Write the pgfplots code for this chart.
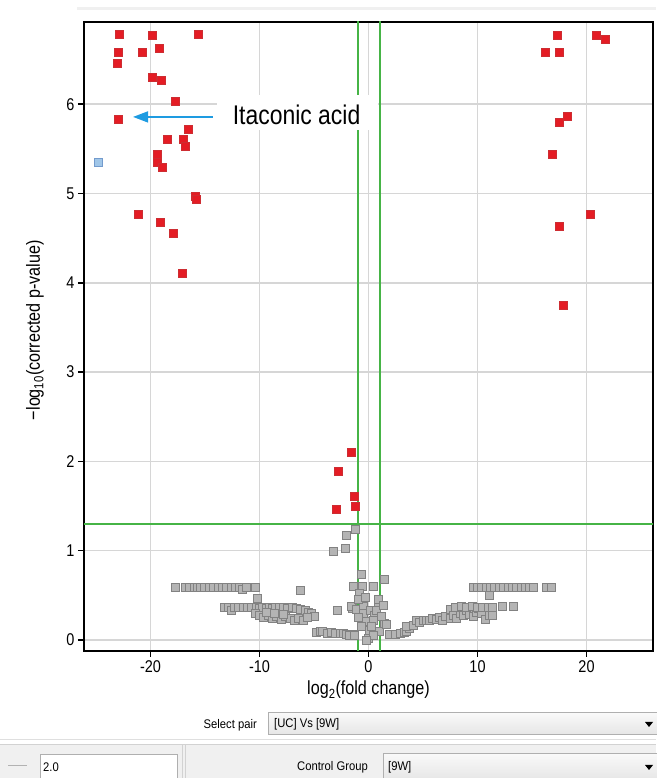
\documentclass[border=0pt]{standalone}
\usepackage{fontspec}
\setmainfont{Liberation Sans}[FakeStretch=0.85]
\newfontfamily\uifont{Liberation Sans}[FakeStretch=0.9]
\usepackage{pgfplots}
\pgfplotsset{compat=1.18}
\usetikzlibrary{arrows.meta}

\definecolor{gridc}{RGB}{214,214,214}
\definecolor{redf}{RGB}{228,28,36}
\definecolor{rede}{RGB}{205,45,50}
\definecolor{grayf}{RGB}{180,180,180}
\definecolor{graye}{RGB}{130,130,130}
\definecolor{bluef}{RGB}{160,198,232}
\definecolor{bluee}{RGB}{115,155,205}
\definecolor{greenl}{RGB}{70,180,70}
\definecolor{arrowc}{RGB}{30,155,225}
\definecolor{panel}{RGB}{240,240,240}
\definecolor{uiborder}{RGB}{175,175,175}

\begin{document}
\begin{tikzpicture}[x=1pt,y=1pt]
\useasboundingbox (0,0) rectangle (656,778);
% top strip
\fill[gray!12] (77,768) rectangle (656,771);
\begin{axis}[
  at={(84pt,127pt)}, anchor=south west,
  width=569pt, height=629pt, scale only axis,
  xmin=-26.1, xmax=26.1, ymin=-0.123, ymax=6.92,
  xtick={-20,-10,0,10,20}, xticklabels={-20,-10,0,10,20},
  ytick={0,1,2,3,4,5,6},
  tick pos=left,
  grid=major, major grid style={gridc, line width=1.5pt},
  axis line style={line width=2.8pt, black},
  tick style={black, line width=1.5pt}, tick align=outside, major tick length=6pt,
  ticklabel style={font=\fontsize{17}{20}\selectfont},
  /pgf/number format/assume math mode=true,
  xlabel={log\textsubscript{2}(fold change)},
  ylabel={−log\textsubscript{10}(corrected p-value)},
  label style={font=\fontsize{19}{22}\selectfont},
  xlabel style={at={(axis description cs:0.5,-0.062)}, anchor=center},
  ylabel style={at={(axis description cs:-0.086,0.51)}, anchor=center},
]
% non-significant (gray)
\addplot[only marks, mark=square*, mark size=4pt, mark options={fill=grayf, draw=graye, line width=1pt}] coordinates {
(-17.7,0.59) (-16.8,0.59) (-16.4,0.59) (-16.0,0.59) (-15.7,0.59) (-15.4,0.59) (-15.0,0.59) (-14.6,0.59)
(-14.2,0.59) (-13.8,0.59) (-13.4,0.59) (-13.0,0.59) (-12.6,0.59) (-12.2,0.59) (-11.8,0.59) (-11.6,0.57)
(-11.2,0.59) (-10.4,0.59) (-10.2,0.47) (-6.2,0.55)
(-13.2,0.36) (-12.8,0.36) (-12.6,0.33) (-12.3,0.36) (-11.9,0.36) (-11.5,0.36) (-11.1,0.36) (-10.7,0.36)
(-10.3,0.36) (-10.0,0.35) (-9.7,0.36) (-9.4,0.35) (-9.1,0.36) (-8.8,0.35) (-8.5,0.36) (-8.2,0.36)
(-7.8,0.36) (-7.4,0.35) (-7.0,0.36) (-6.6,0.35) (-6.2,0.34) (-5.8,0.33) (-5.5,0.31) (-5.2,0.30) (-5.0,0.26)
(-10.4,0.30) (-10.0,0.27) (-9.6,0.25) (-9.2,0.28) (-8.8,0.24) (-8.4,0.26) (-8.0,0.23) (-7.6,0.26)
(-7.2,0.24) (-6.8,0.22) (-6.4,0.24) (-6.0,0.22) (-5.6,0.25) (-9.4,0.31) (-8.6,0.30) (-7.8,0.29)
(-2.8,0.33) (-1.5,0.355)
(-4.8,0.08) (-4.4,0.10) (-4.2,0.10) (-3.8,0.07) (-3.4,0.08) (-3.0,0.07) (-2.6,0.07) (-2.3,0.075)
(-2.0,0.06) (-1.7,0.056) (-1.3,0.06)
(-3.2,0.99) (-2.15,1.03) (-2.0,1.17) (-1.2,1.24) (-0.65,0.73) (1.47,0.68) (-1.35,0.60) (-0.55,0.60)
(0.49,0.60) (-0.86,0.52) (-1.56,0.37) (-1.1,0.34) (-0.5,0.38) (0.88,0.39) (-0.5,0.30) (0.18,0.33)
(0.58,0.28) (-0.18,0.205) (0.42,0.22) (1.5,0.19) (-0.64,0.15) (0.12,0.11) (1.04,0.09) (-0.04,0.02)
(-1.26,0.056) (0.42,0.045) (-0.9,0.45) (0.9,0.45) (-0.3,0.48) (0.7,0.33) (-0.9,0.25) (1.2,0.26)
(1.35,0.39) (1.65,0.17) (-0.2,0.0) (0.3,0.15)
(1.95,0.067) (2.45,0.06) (2.9,0.075) (3.3,0.08) (3.5,0.093) (3.8,0.13) (3.5,0.15) (4.1,0.16)
(4.4,0.22) (4.7,0.20) (5.0,0.22) (5.3,0.22) (5.6,0.22) (5.9,0.24) (6.2,0.23) (6.5,0.25)
(6.8,0.22) (7.1,0.26) (7.5,0.34) (7.5,0.24) (7.8,0.27) (8.1,0.24) (8.4,0.30) (8.7,0.27)
(9.0,0.33) (9.3,0.29) (9.6,0.26) (9.9,0.31) (10.05,0.35) (10.4,0.30) (10.7,0.23) (11.1,0.28)
(11.4,0.28) (8.0,0.36) (8.5,0.37) (9.0,0.36) (9.5,0.37) (10.0,0.36) (10.5,0.36) (11.0,0.36)
(11.4,0.36) (12.3,0.37) (13.3,0.38)
(9.6,0.59) (10.0,0.59) (10.4,0.59) (10.8,0.59) (11.2,0.59) (11.6,0.59) (12.0,0.59) (12.4,0.59)
(12.8,0.59) (13.2,0.59) (13.6,0.59) (14.0,0.59) (14.4,0.59) (14.8,0.59) (15.1,0.59) (16.3,0.59)
(16.8,0.59) (11.1,0.50)
};
% threshold lines (fold change = 2, p = 0.05)
\fill[greenl] (axis cs:-1.10,-0.2) rectangle (axis cs:-0.90,7);
\fill[greenl] (axis cs:0.92,-0.2) rectangle (axis cs:1.12,7);
\fill[greenl] (axis cs:-27,1.292) rectangle (axis cs:27,1.310);
% significant (red)
\addplot[only marks, mark=square*, mark size=4pt, mark options={fill=redf, draw=rede, line width=1pt}] coordinates {
(-22.8,6.78) (-19.85,6.77) (-15.6,6.78) (-22.9,6.58) (-20.7,6.58) (-19.2,6.62) (-23.0,6.45)
(-19.85,6.30) (-19.0,6.26) (-17.7,6.03) (-22.9,5.83) (-16.55,5.72) (-18.4,5.60) (-17.0,5.60)
(-16.8,5.53) (-19.4,5.44) (-19.4,5.35) (-18.9,5.29) (-15.9,4.97) (-15.8,4.93) (-21.1,4.77)
(-19.1,4.67) (-17.9,4.55) (-17.1,4.10)
(17.3,6.77) (20.9,6.77) (21.7,6.72) (16.2,6.58) (17.5,6.58) (18.25,5.86) (17.5,5.80)
(16.9,5.44) (20.4,4.76) (17.5,4.63) (17.9,3.75)
(-1.6,2.10) (-2.75,1.89) (-1.3,1.61) (-1.17,1.50) (-2.9,1.46)
};
% highlighted (blue)
\addplot[only marks, mark=square*, mark size=4pt, mark options={fill=bluef, draw=bluee, line width=1pt}] coordinates {(-24.8,5.35)};
% annotation
\fill[white] (axis cs:-13.9,5.71) rectangle (axis cs:0.85,6.10);
\node[anchor=base, font=\fontsize{27}{30}\selectfont, inner sep=0pt] at (axis cs:-6.6,5.767) {Itaconic acid};
\draw[arrowc, line width=1.5pt, -{Triangle[length=15pt,width=11pt]}] (axis cs:-14.3,5.857) -- (axis cs:-21.6,5.857);
\end{axis}
% ---------- UI controls below the chart ----------
\node[anchor=east, font=\uifont\fontsize{12.5}{14}\selectfont, inner sep=0pt] at (257,53) {Select pair};
\shade[top color=gray!5, bottom color=gray!20, draw=uiborder, line width=1pt] (268,43) rectangle (662,65);
\node[anchor=west, font=\uifont\fontsize{12.5}{14}\selectfont, inner sep=0pt] at (274,54) {[UC] Vs [9W]};
\fill[black] (645,56) -- (653,56) -- (649,51) -- cycle;
\draw[gray!25, line width=1pt] (0,38) -- (656,38);
\fill[panel] (0,-1) rectangle (656,33);
\draw[gray!35, line width=1pt] (0,33) -- (656,33);
\draw[gray!35, line width=1pt] (182,-1) -- (182,33);
\draw[gray!35, line width=1pt] (185,-1) -- (185,33);
\draw[gray!60, line width=1pt] (8,12) -- (27,12);
\filldraw[fill=white, draw=uiborder, line width=1pt] (40,-3) rectangle (177,23);
\node[anchor=west, font=\uifont\fontsize{12.5}{14}\selectfont, inner sep=0pt] at (43,11) {2.0};
\node[anchor=east, font=\uifont\fontsize{12.5}{14}\selectfont, inner sep=0pt] at (368,11) {Control Group};
\shade[top color=gray!5, bottom color=gray!20, draw=uiborder, line width=1pt] (383,-3) rectangle (662,24);
\node[anchor=west, font=\uifont\fontsize{12.5}{14}\selectfont, inner sep=0pt] at (388,11) {[9W]};
\fill[black] (645,13) -- (653,13) -- (649,8) -- cycle;
\end{tikzpicture}
\end{document}
